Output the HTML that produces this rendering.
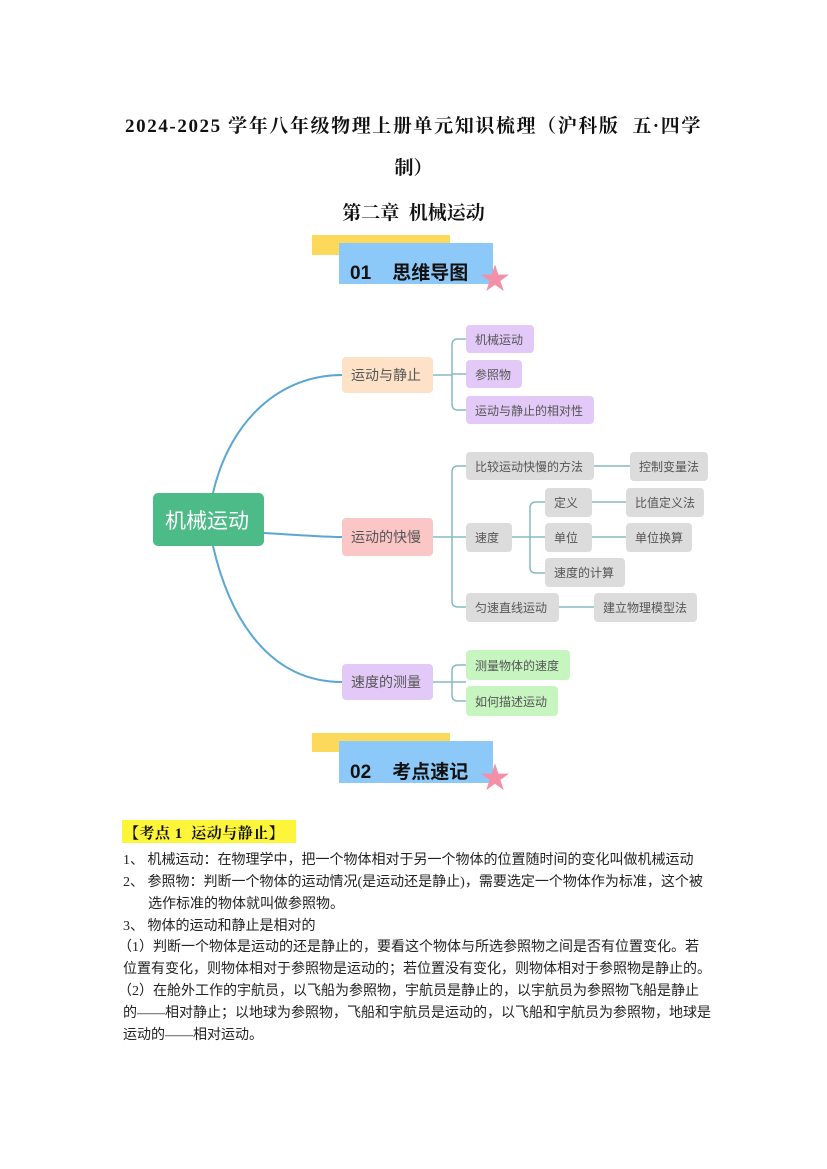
<!DOCTYPE html>
<html><head><meta charset="utf-8"><style>
body{margin:0;width:827px;height:1169px;background:#fff;position:relative;overflow:hidden;font-family:"Liberation Sans","Noto Sans CJK SC",sans-serif;}
.a{position:absolute;white-space:nowrap;}
.t{font-family:"Liberation Serif","Noto Serif CJK SC",serif;font-weight:bold;color:#111;left:0;width:827px;text-align:center;}
.n{position:absolute;box-sizing:border-box;border-radius:4px;font-size:12px;color:#555;display:flex;align-items:center;padding-left:9px;white-space:nowrap;}
.p{background:#e3c9f7;}.g{background:#dcdcdc;}.gr{background:#c6f5c0;}
.l{position:absolute;left:123px;font-size:14px;color:#222;white-space:nowrap;font-family:"Liberation Serif","Noto Sans CJK SC",sans-serif;}
</style></head><body>
<div class="a t" style="top:111px;font-size:19px;letter-spacing:1.6px;">2024-2025 学年八年级物理上册单元知识梳理（沪科版&nbsp; 五·四学</div>
<div class="a t" style="top:153px;font-size:19px;">制）</div>
<div class="a t" style="top:198px;font-size:19px;">第二章&nbsp; 机械运动</div>

<div class="a" style="left:312px;top:235px;width:138px;height:20px;background:#fcd95a;"></div>
<div class="a" style="left:339px;top:243px;width:154px;height:41px;background:#8cc8f8;"></div>
<div class="a" style="left:350px;top:258px;font-size:19px;font-weight:bold;color:#111;">01&nbsp;&nbsp;&nbsp; 思维导图</div>
<div class="a" style="left:480px;top:265px;font-size:30px;color:#f48fa8;line-height:1;">★</div>

<svg class="a" style="left:0;top:0" width="827" height="800">
<g fill="none" stroke="#5aa6d4" stroke-width="2">
<path d="M213 493 C 230 420, 280 375, 342 375"/>
<path d="M264 533 C 300 535, 320 537, 342 537"/>
<path d="M213 546 C 230 620, 270 682, 342 682"/>
</g>
<g fill="none" stroke="#86b9c4" stroke-width="1.5">
<path d="M433 375 H452"/><path d="M466 339 H458 Q452 339 452 345 V404 Q452 410 458 410 H466"/><path d="M452 374 H466"/>
<path d="M433 537 H452"/><path d="M466 466 H458 Q452 466 452 472 V601 Q452 607 458 607 H466"/><path d="M452 537 H466"/>
<path d="M594 466 H630"/><path d="M559 607 H594"/>
<path d="M512 537 H530"/><path d="M545 502 H536 Q530 502 530 508 V567 Q530 573 536 573 H545"/><path d="M530 537 H545"/>
<path d="M592 502 H626"/><path d="M592 537 H626"/>
<path d="M433 682 H452"/><path d="M466 665 H458 Q452 665 452 671 V695 Q452 701 458 701 H466"/><path d="M452 682 H466"/>
</g></svg>

<div class="n" style="left:153px;top:493px;width:111px;height:53px;background:#4cbb87;color:#fff;font-size:21px;padding-left:12px;border-radius:5px;">机械运动</div>
<div class="n" style="left:342px;top:357px;width:91px;height:36px;background:#fde2c8;font-size:14px;">运动与静止</div>
<div class="n" style="left:342px;top:518px;width:91px;height:38px;background:#fac6c6;font-size:14px;">运动的快慢</div>
<div class="n" style="left:342px;top:664px;width:91px;height:36px;background:#e3c9f7;font-size:14px;">速度的测量</div>

<div class="n p" style="left:466px;top:325px;width:68px;height:28px;">机械运动</div>
<div class="n p" style="left:466px;top:360px;width:56px;height:28px;">参照物</div>
<div class="n p" style="left:466px;top:396px;width:128px;height:28px;">运动与静止的相对性</div>
<div class="n g" style="left:466px;top:452px;width:128px;height:28px;">比较运动快慢的方法</div>
<div class="n g" style="left:630px;top:452px;width:78px;height:29px;">控制变量法</div>
<div class="n g" style="left:545px;top:488px;width:47px;height:29px;">定义</div>
<div class="n g" style="left:626px;top:488px;width:78px;height:29px;">比值定义法</div>
<div class="n g" style="left:466px;top:523px;width:46px;height:29px;">速度</div>
<div class="n g" style="left:545px;top:523px;width:47px;height:29px;">单位</div>
<div class="n g" style="left:626px;top:523px;width:66px;height:29px;">单位换算</div>
<div class="n g" style="left:545px;top:558px;width:80px;height:29px;">速度的计算</div>
<div class="n g" style="left:466px;top:593px;width:93px;height:29px;">匀速直线运动</div>
<div class="n g" style="left:594px;top:593px;width:103px;height:29px;">建立物理模型法</div>
<div class="n gr" style="left:466px;top:650px;width:104px;height:30px;">测量物体的速度</div>
<div class="n gr" style="left:466px;top:686px;width:92px;height:30px;">如何描述运动</div>

<div class="a" style="left:312px;top:733px;width:138px;height:19px;background:#fcd95a;"></div>
<div class="a" style="left:339px;top:741px;width:154px;height:42px;background:#8cc8f8;"></div>
<div class="a" style="left:350px;top:757px;font-size:19px;font-weight:bold;color:#111;">02&nbsp;&nbsp;&nbsp; 考点速记</div>
<div class="a" style="left:480px;top:764px;font-size:30px;color:#f48fa8;line-height:1;">★</div>

<div class="a" style="left:122px;top:820px;width:174px;height:23px;background:#fdf53a;"></div>
<div class="a" style="left:124px;top:822px;font-size:15px;font-weight:bold;color:#111;letter-spacing:0.5px;font-family:'Liberation Serif','Noto Serif CJK SC',serif;">【考点 1&nbsp; 运动与静止】</div>
<div class="l" style="top:849px;">1、 机械运动：在物理学中，把一个物体相对于另一个物体的位置随时间的变化叫做机械运动</div>
<div class="l" style="top:871px;">2、 参照物：判断一个物体的运动情况(是运动还是静止)，需要选定一个物体作为标准，这个被</div>
<div class="l" style="top:893px;left:148px;">选作标准的物体就叫做参照物。</div>
<div class="l" style="top:915px;">3、 物体的运动和静止是相对的</div>
<div class="l" style="top:936px;left:118px;">（1）判断一个物体是运动的还是静止的，要看这个物体与所选参照物之间是否有位置变化。若</div>
<div class="l" style="top:958px;">位置有变化，则物体相对于参照物是运动的；若位置没有变化，则物体相对于参照物是静止的。</div>
<div class="l" style="top:980px;left:118px;">（2）在舱外工作的宇航员，以飞船为参照物，宇航员是静止的，以宇航员为参照物飞船是静止</div>
<div class="l" style="top:1002px;">的——相对静止；以地球为参照物，飞船和宇航员是运动的，以飞船和宇航员为参照物，地球是</div>
<div class="l" style="top:1024px;">运动的——相对运动。</div>
</body></html>
